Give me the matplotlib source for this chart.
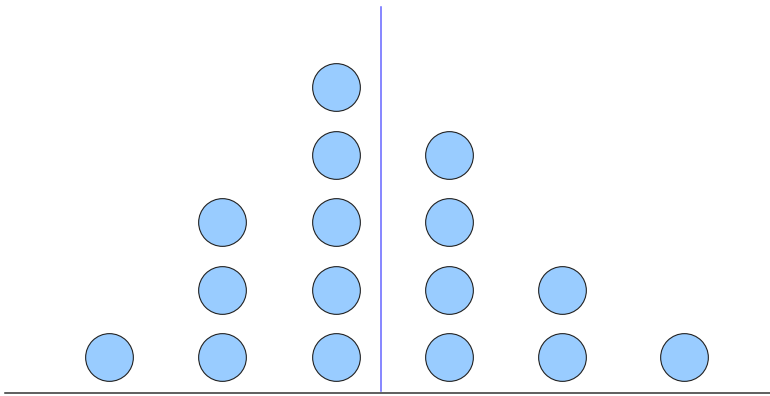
import matplotlib.pyplot as plt

# nilai dan jumlah titik per kolom
values = [1, 2, 3, 4, 5, 6.07]
counts = [1, 3, 5, 4, 2, 1]
mean_line = 3.4

fig = plt.figure(figsize=(7.7, 3.96), dpi=100)
W, H = 770, 396
base_px = 393.3
ax = fig.add_axes([5 / W, (H - base_px) / H, 1 - 5 / W, base_px / H])

# titik-titik
xs, ys = [], []
for v, c in zip(values, counts):
    for k in range(c):
        xs.append(v)
        ys.append(k + 0.534)
ax.scatter(xs, ys, s=1180, color='#99ccff', edgecolor='#222222', linewidth=0.8, zorder=3)

# garis rata-rata
ax.axvline(mean_line, ymin=0.006, ymax=0.982, color='#6666ff', linewidth=1.1)

ax.set_xlim(0.0855, 6.8316)
ax.set_ylim(0, 5.831)
for s in ['top', 'left', 'right']:
    ax.spines[s].set_visible(False)
ax.spines['bottom'].set_color('#333333')
ax.spines['bottom'].set_linewidth(1.1)
ax.set_xticks([])
ax.set_yticks([])

fig.savefig('out.png', dpi=100)
